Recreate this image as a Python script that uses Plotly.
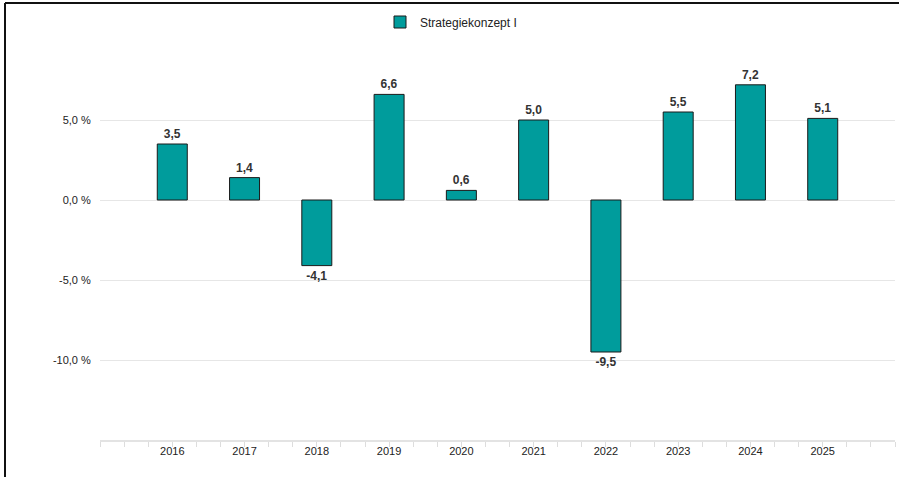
import plotly.graph_objects as go

years = ["2016", "2017", "2018", "2019", "2020", "2021", "2022", "2023", "2024", "2025"]
values = [3.5, 1.4, -4.1, 6.6, 0.6, 5.0, -9.5, 5.5, 7.2, 5.1]
series_name = "Strategiekonzept I"
y_tickvals = [-10, -5, 0, 5, 10]
y_ticktext = ["-10,0 %", "-5,0 %", "0,0 %", "5,0 %", ""]

xpos = list(range(len(years)))
labels = [f"{v:.1f}".replace(".", ",") for v in values]

fig = go.Figure()
fig.add_trace(go.Bar(
    x=xpos, y=values, name=series_name,
    marker=dict(color="#009c9c", line=dict(color="#1a1a1a", width=1)),
    width=0.415,
    text=labels, textposition="outside", cliponaxis=False,
    textfont=dict(family="Liberation Sans, Arial, sans-serif", size=12, color="#333333", weight="bold"),
    showlegend=True,
))

W, H = 899, 477
ml, mr, mt, mb = 100, 4, 40, 37
pw, ph = W - ml - mr, H - mt - mb

def px2paper_x(px):
    return (px - ml) / pw

def py2paper_y(py):
    return (H - mb - py) / ph

shapes = [
    dict(type="line", xref="paper", yref="paper",
         x0=px2paper_x(5), x1=px2paper_x(905), y0=py2paper_y(3), y1=py2paper_y(3),
         line=dict(color="#111111", width=2)),
    dict(type="line", xref="paper", yref="paper",
         x0=px2paper_x(5), x1=px2paper_x(5), y0=py2paper_y(3), y1=py2paper_y(485),
         line=dict(color="#111111", width=2)),
]

fig.update_layout(
    width=W, height=H,
    margin=dict(l=ml, r=mr, t=mt, b=mb),
    paper_bgcolor="white", plot_bgcolor="white",
    font=dict(family="Liberation Sans, Arial, sans-serif", size=11, color="#222222"),
    shapes=shapes,
    legend=dict(orientation="h", x=px2paper_x(380), xanchor="left",
                y=py2paper_y(22), yanchor="middle",
                font=dict(size=12, color="#222222"), bgcolor="rgba(0,0,0,0)"),
    xaxis=dict(
        range=[-1, 10], tickvals=xpos, ticktext=years,
        showgrid=False, zeroline=False,
        showline=True, linecolor="#e3e3e3", linewidth=2,
        ticks="outside", ticklen=0, tickcolor="#e3e3e3",
        minor=dict(dtick=1/3, tick0=-1, ticks="outside", ticklen=5,
                   tickcolor="#dddddd", tickwidth=1, showgrid=False),
        tickfont=dict(size=11, color="#222222"),
    ),
    yaxis=dict(
        range=[-15, 10], tickvals=y_tickvals, ticktext=y_ticktext,
        showgrid=True, gridcolor="#e6e6e6", gridwidth=1,
        zeroline=False, showline=False,
        ticks="outside", ticklen=6, tickcolor="rgba(0,0,0,0)",
        tickfont=dict(size=11, color="#222222"),
    ),
)

fig.write_html("out.html", config={"displayModeBar": False},
               post_script="document.body.style.margin='0px';")
